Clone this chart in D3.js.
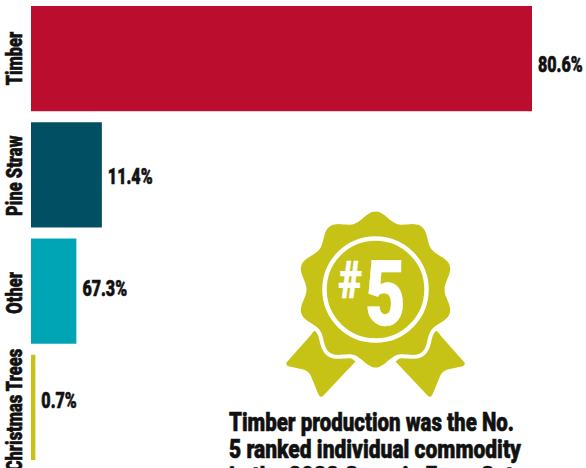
<!DOCTYPE html>
<html>
<head>
<meta charset="utf-8">
<script src="https://cdn.jsdelivr.net/npm/d3@7"></script>
<style>
  html, body { margin: 0; padding: 0; background: #fff; overflow: hidden; }
  text { font-family: Roboto, "Liberation Sans", sans-serif; font-weight: 900; fill: #111; stroke: #111; stroke-width: 0.6; }
  .axis path, .axis line { display: none; }
</style>
</head>
<body>
<svg id="chart" width="586" height="468"></svg>
<script>
const categories = ['Timber', 'Pine Straw', 'Other', 'Christmas Trees'];
const shares = [80.6, 11.4, 7.3, 0.7];
// printed labels, the "Other" one reads 67.3% in the source even though the bar is about 7
const valueLabels = ['80.6%', '11.4%', '67.3%', '0.7%'];
const barColors = ['#bb0d2e', '#004f63', '#00a5b5', '#c6c316'];
const noteLines = [
  'Timber production was the No.',
  '5 ranked individual commodity',
  'in the 2022 Georgia Farm Gate'
];

const svg = d3.select('#chart');

// no condensed face is installed, so squeeze the glyphs horizontally
function condense(selection, factor) {
  selection.each(function () {
    const natural = this.getComputedTextLength();
    d3.select(this)
      .attr('textLength', natural * factor)
      .attr('lengthAdjust', 'spacingAndGlyphs');
  });
}

const x = d3.scaleLinear().domain([0, 80.6]).range([31, 532]);
const y = d3.scaleBand().domain(categories).range([6, 460]).paddingInner(0.095);
const color = d3.scaleOrdinal().domain(categories).range(barColors);
// the labels do not sit on the bar centres, they run on their own spacing
const yValue = d3.scalePoint().domain(categories).range([71.5, 408]);
const yName = d3.scalePoint().domain(categories).range([58.5, 410]);

const rows = categories.map((c, i) => ({ name: c, value: shares[i], label: valueLabels[i] }));

svg.selectAll('rect.bar')
  .data(rows)
  .join('rect')
  .attr('class', 'bar')
  .attr('x', x(0))
  .attr('y', (d) => y(d.name))
  .attr('width', (d) => x(d.value) - x(0))
  .attr('height', y.bandwidth())
  .attr('fill', (d) => color(d.name));

svg.selectAll('text.value')
  .data(rows)
  .join('text')
  .attr('class', 'value')
  .attr('x', (d) => x(d.value) + 6)
  .attr('y', (d) => yValue(d.name))
  .attr('font-size', 22)
  .text((d) => d.label)
  .call(condense, 0.73);

const axis = svg.append('g')
  .attr('class', 'axis')
  .attr('transform', `translate(${x(0)},0)`)
  .call(d3.axisLeft(y).tickSize(0).tickPadding(0));

axis.selectAll('.tick')
  .attr('transform', (d) => `translate(0,${yName(d)})`);

axis.selectAll('text')
  .attr('font-size', 22)
  .attr('font-family', null)
  .attr('text-anchor', 'middle')
  .attr('dy', 0)
  .attr('x', 0)
  .attr('transform', 'translate(-9,0) rotate(-90)')
  .call(condense, 0.75);

// badge
const badge = svg.append('g').attr('transform', 'translate(375.5,289.5)');
const olive = barColors[3];

const ribbonLeft = 'M-60,41 Q-63,42 -65,46 L-89,73 Q-90,76 -86,77 L-72,80 Q-66,82 -64,88 L-57,105 Q-55,109 -52,106 L-20,72 Z';
badge.append('path').attr('d', ribbonLeft).attr('fill', olive);
badge.append('path').attr('d', ribbonLeft).attr('fill', olive).attr('transform', 'scale(-1,1)');

const steps = d3.range(0, 360, 3);
const scallop = d3.lineRadial()
  .angle((d) => d * Math.PI / 180)
  .radius((d) => 75.5 + 4.5 * Math.cos(10 * d * Math.PI / 180))
  .curve(d3.curveCardinalClosed);

badge.append('path')
  .attr('d', scallop(steps))
  .attr('fill', olive)
  .attr('stroke', '#fff')
  .attr('stroke-width', 4);

badge.append('circle')
  .attr('r', 51)
  .attr('fill', 'none')
  .attr('stroke', '#fff')
  .attr('stroke-width', 4.5);

badge.append('text')
  .attr('x', -37)
  .attr('y', 8.5)
  .attr('font-size', 52)
  .style('fill', '#fff')
  .style('stroke', '#fff')
  .text('#')
  .call(condense, 0.78);

badge.append('text')
  .attr('x', -10.5)
  .attr('y', 35)
  .attr('font-size', 90)
  .style('fill', '#fff')
  .style('stroke', '#fff')
  .text('5')
  .call(condense, 0.78);

const noteLengths = [285, 292, 296];

svg.selectAll('text.note')
  .data(noteLines)
  .join('text')
  .attr('class', 'note')
  .attr('x', 229)
  .attr('y', (d, i) => 431 + i * 27)
  .attr('font-size', 26)
  .attr('textLength', (d, i) => noteLengths[i])
  .attr('lengthAdjust', 'spacingAndGlyphs')
  .text((d) => d);
</script>
</body>
</html>
